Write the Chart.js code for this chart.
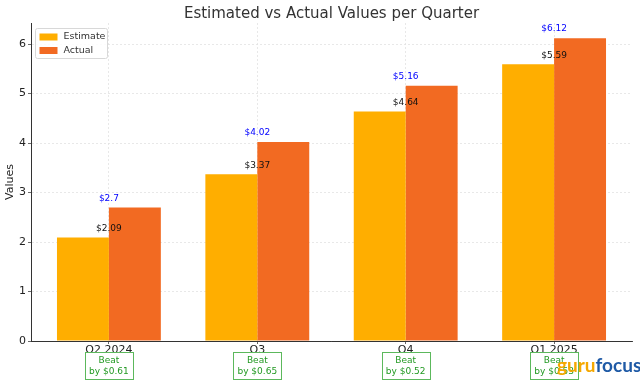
<!DOCTYPE html>
<html><head><meta charset="utf-8">
<script src="https://cdn.jsdelivr.net/npm/chart.js@4"></script>
<style>html,body{margin:0;padding:0;background:#fff}#wrap{width:640px;height:382px}</style>
</head><body><div id="wrap"><canvas id="c" width="640" height="382"></canvas></div>
<script>
const categories = ["Q2 2024", "Q3", "Q4", "Q1 2025"];
const estimates = [2.09, 3.37, 4.64, 5.59];
const actuals = [2.7, 4.02, 5.16, 6.12];
const beats = ["0.61", "0.65", "0.52", "0.53"];
const yTicks = [0, 1, 2, 3, 4, 5, 6];

const FONT = "'DejaVu Sans', sans-serif";
const EST_COLOR = '#FFAE00';
const ACT_COLOR = '#F26A22';

const labelPlugin = {
  id: 'labels',
  afterDatasetsDraw(chart) {
    const ctx = chart.ctx, x = chart.scales.x, y = chart.scales.y;
    ctx.save();
    ctx.font = '9px ' + FONT;
    ctx.textAlign = 'center';
    ctx.textBaseline = 'middle';
    categories.forEach((c, i) => {
      const cx = x.getPixelForValue(i);
      ctx.fillStyle = '#111';
      ctx.fillText('$' + estimates[i], cx, y.getPixelForValue(estimates[i]) - 9);
      ctx.fillStyle = '#0000ff';
      ctx.fillText('$' + actuals[i], cx, y.getPixelForValue(actuals[i]) - 9);
    });
    ctx.restore();
  },
  afterDraw(chart) {
    const ctx = chart.ctx, x = chart.scales.x, a = chart.chartArea;
    ctx.save();
    // legend
    ctx.fillStyle = 'rgba(255,255,255,0.85)';
    ctx.strokeStyle = '#d8d8d8';
    ctx.lineWidth = 1;
    const lx = a.left + 4.5, ly = a.top + 5.5, lw = 72, lh = 30;
    ctx.beginPath();
    if (ctx.roundRect) ctx.roundRect(lx, ly, lw, lh, 2); else ctx.rect(lx, ly, lw, lh);
    ctx.fill(); ctx.stroke();
    ctx.font = '9.5px ' + FONT;
    ctx.textBaseline = 'middle';
    ctx.textAlign = 'left';
    [['Estimate', EST_COLOR], ['Actual', ACT_COLOR]].forEach((e, k) => {
      const yy = ly + 8.5 + k * 13.5;
      ctx.fillStyle = e[1];
      ctx.fillRect(lx + 4, yy - 3.5, 18, 7);
      ctx.fillStyle = '#333';
      ctx.fillText(e[0], lx + 28, yy);
    });
    // beat boxes
    categories.forEach((c, i) => {
      const cx = x.getPixelForValue(i);
      const bw = 48, bh = 27, by = a.bottom + 11.5;
      ctx.fillStyle = '#fff';
      ctx.fillRect(cx - bw / 2, by, bw, bh);
      ctx.strokeStyle = '#5cb85c';
      ctx.lineWidth = 1;
      ctx.strokeRect(Math.round(cx - bw / 2) + 0.5, by, bw, bh);
      ctx.fillStyle = '#229922';
      ctx.textAlign = 'center';
      ctx.font = '9px ' + FONT;
      ctx.fillText('Beat', cx, by + 8);
      ctx.fillText('by $' + beats[i], cx, by + 19.5);
    });
    // watermark
    ctx.textAlign = 'left';
    ctx.textBaseline = 'alphabetic';
    ctx.font = 'bold 19px Lato, sans-serif';
    ctx.fillStyle = '#F5A800';
    ctx.fillText('guru', 557, 372);
    const w = ctx.measureText('guru').width;
    ctx.fillStyle = '#1F5AA6';
    ctx.fillText('focus', 557 + w, 372);
    ctx.restore();
  }
};

new Chart(document.getElementById('c'), {
  type: 'bar',
  data: {
    datasets: [
      { label: 'Estimate', data: estimates.map((v, i) => ({ x: i, y: v })), backgroundColor: EST_COLOR, categoryPercentage: 0.7, barPercentage: 1.0 },
      { label: 'Actual', data: actuals.map((v, i) => ({ x: i, y: v })), backgroundColor: ACT_COLOR, categoryPercentage: 0.7, barPercentage: 1.0 }
    ]
  },
  options: {
    responsive: false,
    animation: false,
    layout: { padding: { left: 0, right: 8, top: 0, bottom: 0 } },
    plugins: {
      legend: { display: false },
      tooltip: { enabled: false },
      title: { display: true, text: 'Estimated vs Actual Values per Quarter', fullSize: false, color: '#333', font: { family: FONT, size: 15, weight: 'normal' }, padding: { top: 5, bottom: 0 } }
    },
    scales: {
      x: {
        type: 'linear', min: -0.525, max: 3.525, offset: false,
        afterBuildTicks(s) { s.ticks = categories.map((c, i) => ({ value: i })); },
        afterFit(s) { s.height = 41; },
        ticks: { callback: (v) => categories[v] ?? '', color: '#222', font: { family: FONT, size: 11 }, padding: 0, maxRotation: 0, autoSkip: false },
        grid: { offset: false, color: '#e2e2e2', tickColor: '#444', tickLength: 3, lineWidth: 0.8 },
        border: { color: '#333', width: 1, dash: [2, 2] }
      },
      y: {
        min: 0, max: 6.426,
        afterBuildTicks(s) { s.ticks = yTicks.map(v => ({ value: v })); },
        afterFit(s) { s.width = 31; },
        ticks: { color: '#222', font: { family: FONT, size: 11 }, padding: 2 },
        title: { display: true, text: 'Values', color: '#222', font: { family: FONT, size: 11 }, padding: { top: 4, bottom: 0 } },
        grid: { color: '#e2e2e2', tickColor: '#444', tickLength: 3, lineWidth: 0.8 },
        border: { color: '#333', width: 1, dash: [2, 2] }
      }
    }
  },
  plugins: [labelPlugin]
});
</script></body></html>
